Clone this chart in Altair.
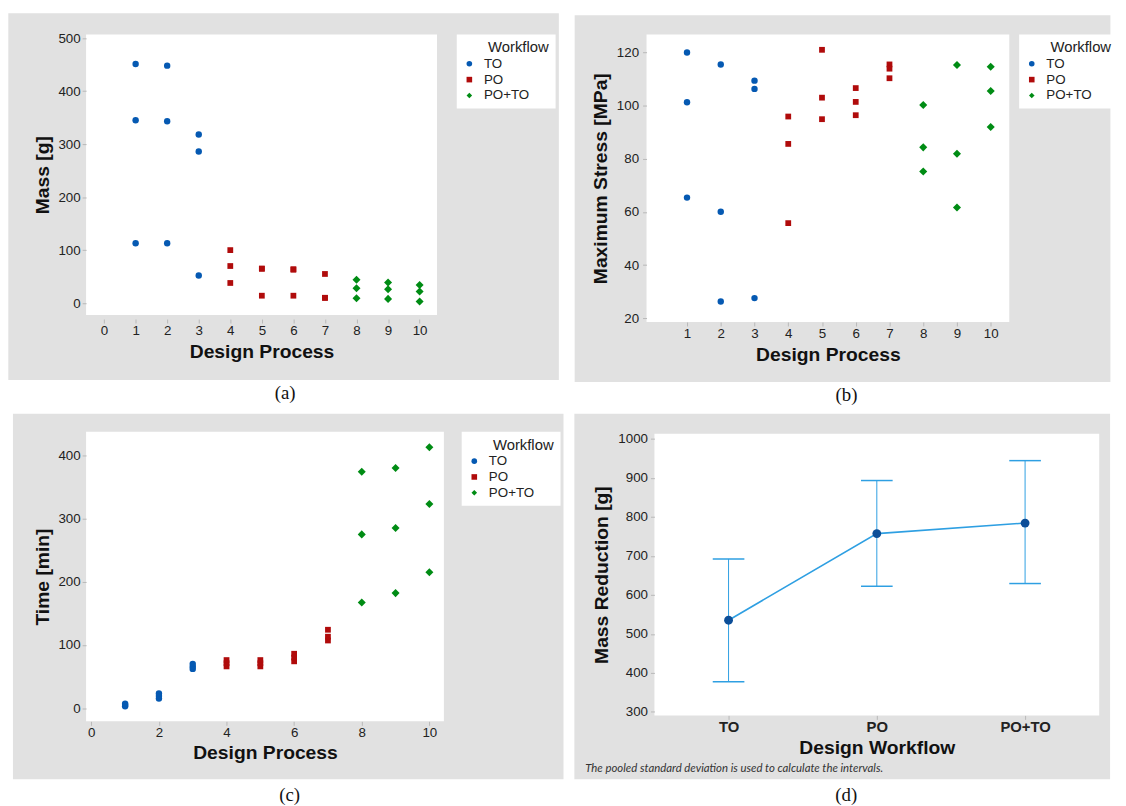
import altair as alt
import pandas as pd

# ---------------- data ----------------
WORKFLOWS = ["TO", "PO", "PO+TO"]
design = [1, 1, 1, 2, 2, 2, 3, 3, 3, 4, 4, 4, 5, 5, 5,
          6, 6, 6, 7, 7, 7, 8, 8, 8, 9, 9, 9, 10, 10, 10]
workflow = (["TO"] * 9) + (["PO"] * 12) + (["PO+TO"] * 9)
mass_g = [451, 345, 113, 448, 343, 113, 318, 286, 52,
          100, 70, 38, 65, 65, 14, 64, 63, 14, 55, 10, 10,
          44, 28, 9, 39, 26, 8, 34, 22, 3]
stress_mpa = [120.0, 101.3, 65.4, 115.5, 60.1, 26.3, 109.4, 106.3, 27.6,
              95.9, 85.6, 55.8, 121.0, 103.0, 94.9, 106.6, 101.4, 96.4,
              115.5, 113.9, 110.3, 100.2, 84.3, 75.2, 115.3, 81.9, 61.7,
              114.6, 105.5, 92.0]
time_min = [3, 5, 7, 15, 19, 23, 62, 66, 70,
            66, 71, 76, 66, 71, 76, 74, 80, 86, 107, 113, 124,
            374, 275, 167, 380, 285, 182, 413, 323, 215]

mr_workflow = ["TO", "PO", "PO+TO"]
mr_mean = [535, 757, 784]
mr_lower = [377, 622, 629]
mr_upper = [692, 893, 944]

# ---------------- style ----------------
GRAY = "#e1e1e1"
FONT = "'Liberation Sans', Arial, sans-serif"
COLORS = ["#0559b2", "#b00b0b", "#008c14"]
SHAPES = ["circle", "square", "diamond"]
LIGHT_BLUE = "#2e9fe2"
DARK_BLUE = "#0c4e98"

df = pd.DataFrame({"design": design, "workflow": workflow, "mass": mass_g,
                   "stress": stress_mpa, "time": time_min})
dfd = pd.DataFrame({"wf": mr_workflow, "mean": mr_mean, "lo": mr_lower, "hi": mr_upper})


def axis(title, values, title_pad, label_pad=3, tick=4, offset=0, **kw):
    return alt.Axis(title=title, values=values, grid=False, domain=False, ticks=True,
                    tickSize=tick, tickColor="#b8b8b8", offset=offset,
                    labelFont=FONT, labelFontSize=13.5, labelColor="#222222",
                    labelPadding=label_pad, titleFont=FONT, titleFontSize=19.5,
                    titleFontWeight="bold", titleColor="#111111", titlePadding=title_pad,
                    zindex=1, format="d", **kw)


def backdrop(w, h, box, caption, cap_xy, strip_bottom=None, note=None):
    left, top, right, bottom = box
    one = alt.Data(values=[{"t": caption}])
    layers = []
    if strip_bottom is not None:
        layers.append(alt.Chart(one).mark_rect(color="white").encode(
            x=alt.value(left), x2=alt.value(right), y=alt.value(bottom), y2=alt.value(strip_bottom)))
    layers.append(alt.Chart(one).mark_rect(color=GRAY).encode(
        x=alt.value(left), x2=alt.value(right), y=alt.value(top), y2=alt.value(bottom)))
    layers.append(alt.Chart(one).mark_rect(color="white").encode(
        x=alt.value(0), x2=alt.value(w), y=alt.value(0), y2=alt.value(h)))
    layers.append(alt.Chart(one).mark_text(font="'Liberation Serif', serif", fontSize=19,
                                           color="#111111", align="center", baseline="middle").encode(
        x=alt.value(cap_xy[0]), y=alt.value(cap_xy[1]), text="t:N"))
    if note is not None:
        nd = alt.Data(values=[{"n": note[0]}])
        layers.append(alt.Chart(nd).mark_text(font="Lato, 'Open Sans', sans-serif", fontStyle="italic",
                                              fontSize=11.5, color="#333333", align="left",
                                              baseline="middle").encode(
            x=alt.value(note[1]), y=alt.value(note[2]), text="n:N"))
    return layers


def legend(offset):
    return alt.Legend(title="Workflow", orient="right", offset=offset, fillColor="white",
                      padding=6, titleFont=FONT, titleFontSize=15, titleFontWeight="normal",
                      titleColor="#222222", titleAnchor="end", titleAlign="right", titlePadding=2,
                      labelFont=FONT, labelFontSize=13.5, labelColor="#222222",
                      labelExpr="datum.label + '\u2800\u2800'",
                      labelOffset=8, symbolSize=32, rowPadding=1, symbolStrokeWidth=0)


def scatter(field, w, h, xdom, xvals, ydom, yvals, xtitle_pad, ytitle, ytitle_pad,
            ylabel_pad, leg_off, box, caption, cap_xy, strip_bottom=None,
            xoffset=0, xlabel_pad=3):
    size_rule = (alt.when(alt.datum.workflow == "PO+TO").then(alt.value(66))
                 .when(alt.datum.workflow == "PO").then(alt.value(34))
                 .otherwise(alt.value(42)))
    pts = alt.Chart(df).mark_point(filled=True, opacity=1).encode(
        x=alt.X("design:Q", scale=alt.Scale(domain=xdom, nice=False, zero=False),
                axis=axis("Design Process", xvals, xtitle_pad, label_pad=xlabel_pad,
                          offset=xoffset, labelAngle=0)),
        y=alt.Y(f"{field}:Q", scale=alt.Scale(domain=ydom, nice=False, zero=False),
                axis=axis(ytitle, yvals, ytitle_pad, label_pad=ylabel_pad)),
        color=alt.Color("workflow:N", scale=alt.Scale(domain=WORKFLOWS, range=COLORS),
                        legend=legend(leg_off)),
        shape=alt.Shape("workflow:N", scale=alt.Scale(domain=WORKFLOWS, range=SHAPES),
                        legend=legend(leg_off)),
        size=size_rule,
    )
    layers = backdrop(w, h, box, caption, cap_xy, strip_bottom) + [pts]
    return alt.layer(*layers).properties(width=w, height=h)


panel_a = scatter("mass", 355, 284, [-0.57, 10.55], list(range(0, 11)),
                  [-22.6, 507], [0, 100, 200, 300, 400, 500], 5, "Mass [g]", 6, 2, 20,
                  (-78.7, -21.3, 478.3, 349.7), "(a)", (201.3, 362.7), strip_bottom=374.7,
                  xoffset=4, xlabel_pad=1)
panel_b = scatter("stress", 367, 291, [-0.2, 10.55], list(range(1, 11)),
                  [18.6, 126.8], [20, 40, 60, 80, 100, 120], 5, "Maximum Stress [MPa]", 6, 4, 10,
                  (-72.7, -19.3, 469.3, 351.7), "(b)", (202.3, 364.7), strip_bottom=376.7,
                  xoffset=0, xlabel_pad=1)
panel_c = scatter("time", 362, 293, [-0.155, 10.43], [0, 2, 4, 6, 8, 10],
                  [-21, 437.5], [0, 100, 200, 300, 400], 5, "Time [min]", 6, 2, 18,
                  (-74, -18.3, 483, 351.7), "(c)", (206, 367.7),
                  xoffset=0, xlabel_pad=0)

# panel d: means with intervals
WD, HD = 450, 285
xd = alt.X("wf:N", sort=mr_workflow, scale=alt.Scale(type="point", padding=0.5),
           axis=alt.Axis(title="Design Workflow", grid=False, domain=False, ticks=True, tickSize=4,
                         tickColor="#b8b8b8", labelFont=FONT, labelFontSize=15,
                         labelFontWeight="bold", labelColor="#222222", labelAngle=0, labelPadding=0,
                         titleFont=FONT, titleFontSize=19.5, titleFontWeight="bold",
                         titleColor="#111111", titlePadding=5, zindex=1))
yscale = alt.Scale(domain=[291, 1013], nice=False, zero=False)
yaxis = axis("Mass Reduction [g]", [300, 400, 500, 600, 700, 800, 900, 1000], 6, label_pad=3)
base = alt.Chart(dfd).encode(x=xd)
rule = base.mark_rule(color=LIGHT_BLUE, strokeWidth=1).encode(
    y=alt.Y("lo:Q", scale=yscale, axis=yaxis), y2="hi:Q")
cap_lo = base.mark_tick(color=LIGHT_BLUE, size=32, thickness=1.5, opacity=1).encode(
    y=alt.Y("lo:Q", scale=yscale, axis=yaxis))
cap_hi = base.mark_tick(color=LIGHT_BLUE, size=32, thickness=1.5, opacity=1).encode(
    y=alt.Y("hi:Q", scale=yscale, axis=yaxis))
line = base.mark_line(color=LIGHT_BLUE, strokeWidth=1.6).encode(
    y=alt.Y("mean:Q", scale=yscale, axis=yaxis))
dots = base.mark_point(filled=True, size=80, color=DARK_BLUE, opacity=1).encode(
    y=alt.Y("mean:Q", scale=yscale, axis=yaxis))
panel_d = alt.layer(
    *backdrop(WD, HD, (-81, -20.3, 461, 349.7), "(d)", (194, 365.7),
              note=("The pooled standard deviation is used to calculate the intervals.", -70, 339.7)),
    rule, cap_lo, cap_hi, line, dots
).properties(width=WD, height=HD)

chart = alt.concat(panel_a, panel_b, panel_c, panel_d, columns=2,
                   spacing=alt.RowColnumber(row=6, column=11), align="none", bounds="full"
                   ).resolve_scale(color="independent", shape="independent"
                   ).properties(padding=0, background="white").configure_view(stroke=None)

chart.save("out.html", embed_options={"renderer": "svg", "actions": False})
